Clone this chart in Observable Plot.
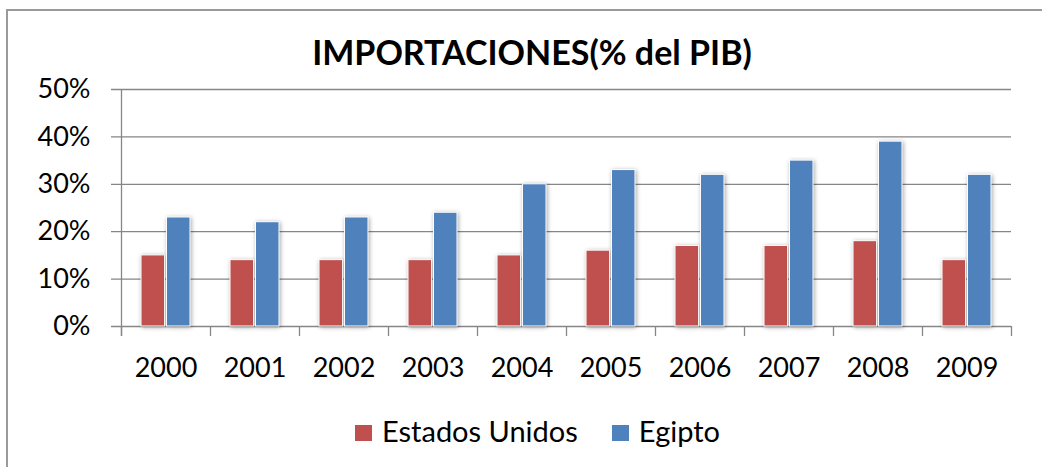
<!DOCTYPE html>
<html>
<head>
<meta charset="utf-8">
<script src="https://cdn.jsdelivr.net/npm/d3@7"></script>
<script src="https://cdn.jsdelivr.net/npm/@observablehq/plot@0.6"></script>
<style>
  html, body { margin: 0; padding: 0; background: #fff; }
  #wrap { position: relative; width: 1042px; height: 467px; overflow: hidden; background: #fff; font-family: Lato, "Liberation Sans", sans-serif; }
  #frame { position: absolute; left: 6px; top: 9px; width: 2000px; height: 2000px; border: 2px solid #9a9a9a; box-sizing: border-box; }
  #title { position: absolute; left: 0; width: 1064px; top: 35px; text-align: center; font-weight: bold; font-size: 34px; line-height: 34px; color: #000; }
  #chart { position: absolute; left: 0; top: 0; }
  #legend { position: absolute; left: 355px; top: 416px; display: flex; align-items: center; font-size: 29px; line-height: 30px; color: #000; }
  #legend .sw { display: inline-block; width: 17px; height: 16px; margin-right: 10px; position: relative; top: 2px; }
  #legend .item { display: flex; align-items: center; margin-right: 34px; }
  .bars { filter: drop-shadow(1px 1px 2px rgba(0,0,0,0.35)); }
</style>
</head>
<body>
<div id="wrap">
  <div id="frame"></div>
  <div id="chart"></div>
  <div id="title"></div>
  <div id="legend"></div>
</div>
<script>
const titleText = "IMPORTACIONES(% del PIB)";
const years = ["2000","2001","2002","2003","2004","2005","2006","2007","2008","2009"];
const seriesNames = ["Estados Unidos", "Egipto"];
const seriesColors = ["#C0504D", "#4F81BD"];
const estadosUnidos = [15, 14, 14, 14, 15, 16, 17, 17, 18, 14];
const egipto = [23, 22, 23, 24, 30, 33, 32, 35, 39, 32];
const yTicks = [0, 10, 20, 30, 40, 50];

const usData = years.map((y, i) => ({year: y, value: estadosUnidos[i], series: seriesNames[0]}));
const egData = years.map((y, i) => ({year: y, value: egipto[i], series: seriesNames[1]}));

const W = 1042, H = 400;
const mL = 121, mR = 31, mT = 89, mB = 74;
const step = (W - mL - mR) / years.length;
const pi = 0.45;
const bw = step * (1 - pi);
const gray = "#868686";

const chart = Plot.plot({
  width: W,
  height: H,
  marginLeft: mL,
  marginRight: mR,
  marginTop: mT,
  marginBottom: mB,
  style: {fontFamily: "Lato, 'Liberation Sans', sans-serif", fontSize: "27px", color: "#000", background: "transparent"},
  x: {type: "band", domain: years, paddingInner: pi, paddingOuter: pi / 2, label: null},
  y: {domain: [0, 50], label: null},
  color: {domain: seriesNames, range: seriesColors},
  marks: [
    Plot.ruleY(yTicks, {y: d => d, stroke: gray, strokeWidth: 1.3, insetLeft: -10}),
    Plot.ruleX([years[0]], {x: d => d, dx: -step / 2, stroke: gray, strokeWidth: 1.3, insetBottom: -10}),
    Plot.ruleX(years, {x: d => d, y1: 0, y2: 0, dx: -step / 2, stroke: gray, strokeWidth: 1.3, insetBottom: -10}),
    Plot.ruleX([years[years.length - 1]], {x: d => d, y1: 0, y2: 0, dx: step / 2, stroke: gray, strokeWidth: 1.3, insetBottom: -10}),
    Plot.barY(usData, {x: "year", y: "value", fill: "series", stroke: "white", strokeWidth: 1, insetRight: bw / 2 + 1, className: "bars"}),
    Plot.barY(egData, {x: "year", y: "value", fill: "series", stroke: "white", strokeWidth: 1, insetLeft: bw / 2 + 1, className: "bars"}),
    Plot.axisY({ticks: yTicks, tickSize: 0, tickPadding: 31, tickFormat: d => d + "%", fontSize: 27}),
    Plot.axisX({tickSize: 0, tickPadding: 31, fontSize: 27})
  ]
});
document.getElementById("chart").appendChild(chart);
document.getElementById("title").textContent = titleText;

const legend = document.getElementById("legend");
seriesNames.forEach((name, i) => {
  const item = document.createElement("div");
  item.className = "item";
  const sw = document.createElement("span");
  sw.className = "sw";
  sw.style.background = seriesColors[i];
  const label = document.createElement("span");
  label.textContent = name;
  item.appendChild(sw);
  item.appendChild(label);
  legend.appendChild(item);
});
</script>
</body>
</html>
